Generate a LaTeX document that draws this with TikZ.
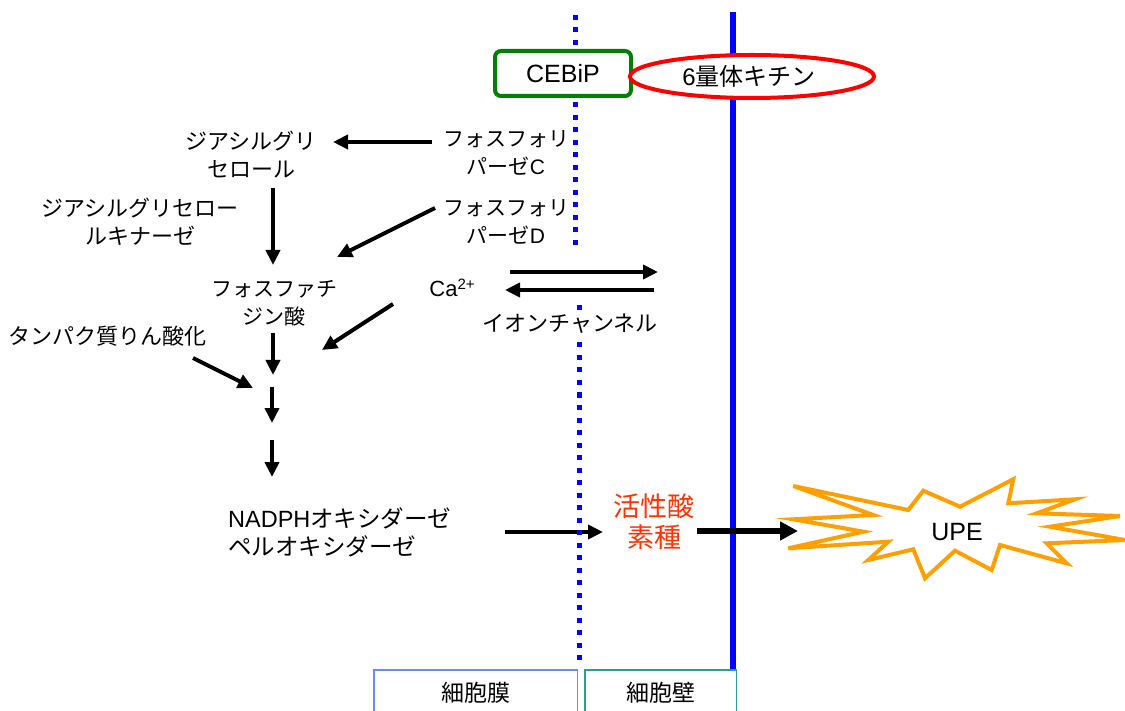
\documentclass[tikz,border=0pt]{standalone}
\usepackage{fontspec}
\setmainfont{Noto Sans CJK JP}
\newfontfamily\lat{Liberation Sans}
\usetikzlibrary{arrows.meta,shapes.geometric}
\definecolor{rosred}{RGB}{255,51,0}
\definecolor{staror}{RGB}{255,160,0}
\definecolor{memb}{RGB}{100,140,255}
\definecolor{wallc}{RGB}{40,160,150}
\definecolor{cebgreen}{RGB}{0,128,0}
\tikzset{
  lbl/.style={font=\fontsize{22}{28}\selectfont, align=center, inner sep=0pt},
  narrowlbl/.style={lbl, font=\fontsize{21}{28}\selectfont},
  arr/.style={line width=4pt, -{Triangle[length=15pt,width=14pt]}},
  bigarr/.style={line width=6pt, -{Triangle[length=18pt,width=18pt]}},
  dots/.style={blue, line width=5pt, dash pattern=on 5pt off 7.5pt},
  wall/.style={blue, line width=5.5pt},
  boxlbl/.style={font=\fontsize{23}{23}\selectfont, line width=1.5pt, minimum height=46pt, inner sep=0pt}
}
\begin{document}
\begin{tikzpicture}[x=1pt,y=-1pt]
\useasboundingbox (0,0) rectangle (1125,711);
\fill[white] (0,0) rectangle (1125,711);
% connector end points
\coordinate (a1s) at (432,142); \coordinate (a1e) at (333,142);
\coordinate (a2s) at (273,188); \coordinate (a2e) at (273,265);
\coordinate (a3s) at (435,208); \coordinate (a3e) at (337,257);
\coordinate (a4s) at (393,304); \coordinate (a4e) at (322,350);
\coordinate (a5s) at (273,333); \coordinate (a5e) at (273,375);
\coordinate (a6s) at (193,358); \coordinate (a6e) at (253,388);
\coordinate (a7s) at (272,387); \coordinate (a7e) at (272,423);
\coordinate (a8s) at (272,440); \coordinate (a8e) at (272,477);
\coordinate (a9s) at (510,272); \coordinate (a9e) at (658,272);
\coordinate (a10s) at (654,290); \coordinate (a10e) at (505,290);
\coordinate (a11s) at (505,532); \coordinate (a11e) at (603,532);
\coordinate (a12s) at (697,531); \coordinate (a12e) at (798,531);
\coordinate (w1) at (733,12); \coordinate (w2) at (733,669);
\coordinate (d1) at (575,15); \coordinate (d2) at (575,248);
\coordinate (d3) at (579,305); \coordinate (d4) at (579,661);
% cell wall
\draw[wall] (w1) -- (w2);
% arrows
\draw[arr] (a1s) -- (a1e);
\draw[arr] (a2s) -- (a2e);
\draw[arr] (a3s) -- (a3e);
\draw[arr] (a4s) -- (a4e);
\draw[arr] (a5s) -- (a5e);
\draw[arr] (a6s) -- (a6e);
\draw[arr] (a7s) -- (a7e);
\draw[arr] (a8s) -- (a8e);
\draw[arr] (a9s) -- (a9e);
\draw[arr] (a10s) -- (a10e);
\draw[arr] (a11s) -- (a11e);
\draw[bigarr] (a12s) -- (a12e);
% membrane
\draw[dots] (d1) -- (d2);
\draw[dots] (d3) -- (d4);
% explosion
\draw[staror, line width=4pt, fill=white, line join=miter]
  (793.3,486) -- (908.3,510) -- (923.3,490.7) -- (960,506.7) -- (1013.3,479.3)
  -- (1008.3,503.3) -- (1075,499.3) -- (1036.7,513.3) -- (1120,516)
  -- (1050,526.7) -- (1125,540) -- (1046.7,543.3) -- (1066.7,563.3)
  -- (1000,545) -- (991.7,570) -- (955,550.7) -- (925,578.3) -- (913.3,549.3)
  -- (868.3,560) -- (888.3,541.7) -- (788.3,548.3) -- (863.3,531.7)
  -- (793.3,519.3) -- (873.3,515) -- cycle;
% nodes
\node[lbl] (dag) at (251,155) {ジアシルグリ\\セロール};
\node[narrowlbl] (plcC) at (506,153) {フォスフォリ\\パーゼ{\lat C}};
\node[narrowlbl] (plcD) at (506,222) {フォスフォリ\\パーゼ{\lat D}};
\node[lbl] (dgk) at (140,222) {ジアシルグリセロー\\ルキナーゼ};
\node[narrowlbl] (pa) at (274,303) {フォスファチ\\ジン酸};
\node[lbl] (ca) at (452,288) {\lat Ca\raisebox{7pt}{\fontsize{15}{15}\selectfont 2+}};
\node[lbl, fill=white, inner sep=2pt] (ion) at (570,324) {イオンチャンネル};
\node[lbl] (tpp) at (108,336) {タンパク質りん酸化};
\node[lbl, align=left, anchor=west, font=\fontsize{23.5}{28}\selectfont] (nadph) at (228,532) {{\lat NADPH}オキシダーゼ\\ペルオキシダーゼ};
\node[lbl, text=rosred, font=\fontsize{27}{31}\selectfont] (ros) at (654,522) {活性酸\\素種};
\node[font=\lat\fontsize{25}{25}\selectfont, inner sep=0pt] (upe) at (957,532) {UPE};
\node[draw=cebgreen, line width=4pt, rounded corners=6pt, fill=white, minimum width=136pt, minimum height=45pt, inner sep=0pt, font=\lat\fontsize{25}{25}\selectfont] (cebip) at (563,73.5) {CEBiP};
\node[ellipse, draw=red, line width=4pt, fill=white, minimum width=244pt, minimum height=43pt, inner sep=0pt, font=\fontsize{24}{24}\selectfont] (chitin) at (752,76.5) {{\lat 6}量体キチン\hspace*{6pt}};
\node[boxlbl, draw=memb, minimum width=203.5pt] (mem) at (475.5,692.75) {細胞膜};
\node[boxlbl, draw=wallc, minimum width=151.5pt] (cw) at (660.5,692.75) {細胞壁};
\end{tikzpicture}
\end{document}
